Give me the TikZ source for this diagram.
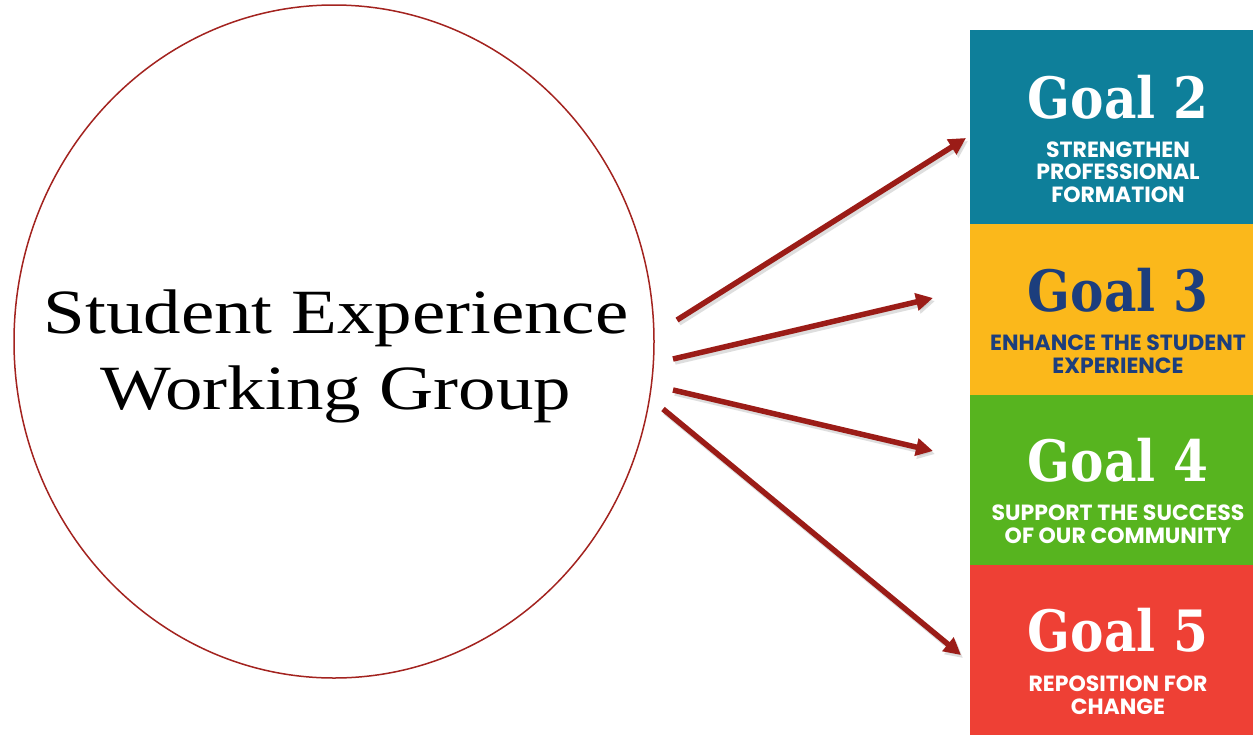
\documentclass[tikz,border=0pt]{standalone}
\usepackage{fontspec}
\setmainfont{Liberation Serif}
\newfontfamily\widefont{Liberation Serif}[FakeStretch=1.19]
\newfontfamily\slabfont{DejaVu Serif}[FakeStretch=0.88]
\newfontfamily\geofont{Poppins}
\usetikzlibrary{arrows.meta,shapes.geometric}
\definecolor{circred}{HTML}{A3231F}
\definecolor{arrred}{HTML}{9B1C17}
\definecolor{gteal}{HTML}{0E7F9A}
\definecolor{gyellow}{HTML}{FBB81B}
\definecolor{ggreen}{HTML}{57B41F}
\definecolor{gred}{HTML}{EE4035}
\definecolor{gnavy}{HTML}{1C3E7D}
\tikzset{
  goalbox/.style={draw=none, inner sep=0pt, minimum width=283pt, anchor=north west},
  goaltitle/.style={font=\slabfont\bfseries\fontsize{57}{60}\selectfont, inner sep=0pt},
  goalsub/.style={font=\geofont\bfseries\fontsize{22}{22.5}\selectfont, align=center, inner sep=0pt},
  arr/.style={draw=arrred, line width=5.5pt, -{Triangle[length=17pt,width=17pt]}},
  shadowarr/.style={draw=black!25, line width=5.5pt, opacity=0.5, -{Triangle[length=17pt,width=17pt]}}
}
\begin{document}
\begin{tikzpicture}[x=1pt,y=-1pt]
\useasboundingbox (0,0) rectangle (1253,734);
\fill[white] (0,0) rectangle (1253,734);
% circle
\node[ellipse, draw=circred, line width=1.5pt, minimum width=640pt, minimum height=673pt, inner sep=0pt] (sewg) at (334,341.5) {};
\node[font=\widefont\fontsize{63}{76}\selectfont, align=center, inner sep=0pt] (sewgtext) at (336,356) {Student Experience\\Working Group};
% goal boxes
\node[goalbox, fill=gteal, minimum height=194pt] (g2) at (970,30) {};
\node[goalbox, fill=gyellow, minimum height=172pt] (g3) at (970,224) {};
\node[goalbox, fill=ggreen, minimum height=170pt] (g4) at (970,395) {};
\node[goalbox, fill=gred, minimum height=170pt] (g5) at (970,565) {};
% goal texts
\node[goaltitle, text=white] (g2t) at (1118,97) {Goal 2};
\node[goalsub, text=white] (g2s) at (1118,172) {STRENGTHEN\\PROFESSIONAL\\FORMATION};
\node[goaltitle, text=gnavy] (g3t) at (1118,290) {Goal 3};
\node[goalsub, text=gnavy] (g3s) at (1118,354) {ENHANCE THE STUDENT\\EXPERIENCE};
\node[goaltitle, text=white] (g4t) at (1118,460) {Goal 4};
\node[goalsub, text=white] (g4s) at (1118,524) {SUPPORT THE SUCCESS\\OF OUR COMMUNITY};
\node[goaltitle, text=white] (g5t) at (1118,630) {Goal 5};
\node[goalsub, text=white] (g5s) at (1118,695) {REPOSITION FOR\\CHANGE};
% arrow endpoints
\coordinate (s2) at (677,320);
\coordinate (e2) at (966,138);
\coordinate (s3) at (673,359);
\coordinate (e3) at (933,298);
\coordinate (s4) at (673,390);
\coordinate (e4) at (933,451);
\coordinate (s5) at (663,409);
\coordinate (e5) at (961,655);
% shadows
\foreach \a/\b in {s2/e2,s3/e3,s4/e4,s5/e5}{
  \draw[shadowarr] ([shift={(2,3)}]\a) -- ([shift={(2,3)}]\b);
}
\draw[arr] (s2) -- (e2);
\draw[arr] (s3) -- (e3);
\draw[arr] (s4) -- (e4);
\draw[arr] (s5) -- (e5);
\end{tikzpicture}
\end{document}
